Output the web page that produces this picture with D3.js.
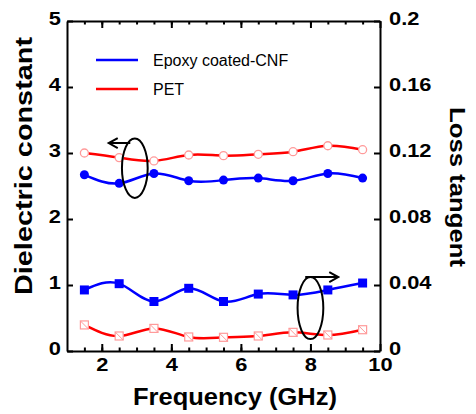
<!DOCTYPE html>
<html>
<head>
<meta charset="utf-8">
<script src="https://cdn.jsdelivr.net/npm/d3@7"></script>
<style>
  body { margin: 0; background: #fff; }
  svg { font-family: "Liberation Sans", Arial, sans-serif; }
  .tick text { font-weight: bold; font-size: 19px; fill: #000; }
  .domain { stroke: #000; stroke-width: 2; }
  .tick line { stroke: #000; stroke-width: 2; }
</style>
</head>
<body>
<div id="chart"></div>
<script>
// Constants for the chart
const CHART_WIDTH = 476;
const CHART_HEIGHT = 414;
const MARGIN = { left: 67, right: 96, top: 21, bottom: 63 };
const STRETCH = 1.15; // the original glyphs are a bit wider than Arial

// data
const freq = [1.5, 2.5, 3.5, 4.5, 5.5, 6.5, 7.5, 8.5, 9.5];
const epoxyDk = [2.67, 2.54, 2.69, 2.58, 2.59, 2.62, 2.58, 2.69, 2.62];
const petDk = [3.0, 2.93, 2.88, 2.97, 2.96, 2.98, 3.02, 3.11, 3.05];
const epoxyTan = [0.037, 0.0408, 0.030, 0.038, 0.030, 0.0345, 0.034, 0.037, 0.0412];
const petTan = [0.0158, 0.0091, 0.0137, 0.0085, 0.0083, 0.0091, 0.0113, 0.0097, 0.0129];

const xTicks = [2, 4, 6, 8, 10];
const xMinorTicks = d3.range(1.5, 10, 0.5);
const leftTicks = [0, 1, 2, 3, 4, 5];
const rightTicks = [0, 0.04, 0.08, 0.12, 0.16, 0.2];

const legendNames = ["Epoxy coated-CNF", "PET"];
const BLUE = "#0000ff";
const RED = "#ff0000";
const PINK = "#ff9a9a";

let svg = d3.select("#chart").append("svg")
  .attr("width", CHART_WIDTH)
  .attr("height", CHART_HEIGHT);

let xScale = d3.scaleLinear().domain([1, 10]).range([MARGIN.left, CHART_WIDTH - MARGIN.right]);
let yLeft = d3.scaleLinear().domain([0, 5]).range([CHART_HEIGHT - MARGIN.bottom, MARGIN.top]);
let yRight = d3.scaleLinear().domain([0, 0.2]).range([CHART_HEIGHT - MARGIN.bottom, MARGIN.top]);

const x0 = MARGIN.left, x1 = CHART_WIDTH - MARGIN.right;
const yTop = MARGIN.top, yBot = CHART_HEIGHT - MARGIN.bottom;

// widen tick labels around their anchor point
function stretchLabels(g) {
  g.selectAll(".tick text").each(function () {
    let t = d3.select(this);
    let tx = +t.attr("x") || 0;
    t.attr("transform", "translate(" + tx + ",0) scale(" + STRETCH + ",1) translate(" + (-tx) + ",0)");
  });
}

// minor ticks top & bottom (inward)
svg.append("g")
  .attr("transform", "translate(0," + yBot + ")")
  .call(d3.axisBottom(xScale).tickValues(xMinorTicks).tickSize(-3.5).tickFormat(""))
  .call(g => g.select(".domain").remove());
svg.append("g")
  .attr("transform", "translate(0," + yTop + ")")
  .call(d3.axisTop(xScale).tickValues(xMinorTicks).tickSize(-3.5).tickFormat(""))
  .call(g => g.select(".domain").remove());

// main axes
svg.append("g")
  .attr("transform", "translate(0," + yBot + ")")
  .call(d3.axisBottom(xScale).tickValues(xTicks).tickSizeInner(-7).tickSizeOuter(0).tickPadding(7))
  .call(stretchLabels);
svg.append("g")
  .attr("transform", "translate(0," + yTop + ")")
  .call(d3.axisTop(xScale).tickValues(xTicks).tickSizeInner(-7).tickSizeOuter(0).tickFormat(""));
svg.append("g")
  .attr("transform", "translate(" + x0 + ",0)")
  .call(d3.axisLeft(yLeft).tickValues(leftTicks).tickSizeInner(-6).tickSizeOuter(0).tickPadding(6).tickFormat(d3.format("d")))
  .call(g => g.selectAll(".tick text").attr("dy", "0.18em"))
  .call(stretchLabels);
svg.append("g")
  .attr("transform", "translate(" + x1 + ",0)")
  .call(d3.axisRight(yRight).tickValues(rightTicks).tickSizeInner(-6).tickSizeOuter(0).tickPadding(9).tickFormat(d => d === 0 ? "0" : String(+d.toFixed(2))))
  .call(g => g.selectAll(".tick text").attr("dy", "0.2em"))
  .call(stretchLabels);

// lines
const series = [
  { vals: epoxyDk, y: yLeft, color: BLUE, marker: "dot" },
  { vals: petDk, y: yLeft, color: RED, marker: "ring" },
  { vals: epoxyTan, y: yRight, color: BLUE, marker: "square" },
  { vals: petTan, y: yRight, color: RED, marker: "box" }
];

series.forEach(s => {
  let line = d3.line()
    .x((d, i) => xScale(freq[i]))
    .y(d => s.y(d))
    .curve(d3.curveNatural);
  svg.append("path")
    .attr("d", line(s.vals))
    .attr("fill", "none")
    .attr("stroke", s.color)
    .attr("stroke-width", 2.5);

  let g = svg.append("g");
  s.vals.forEach((v, i) => {
    let cx = xScale(freq[i]), cy = s.y(v);
    if (s.marker == "dot") {
      g.append("circle").attr("cx", cx).attr("cy", cy).attr("r", 4.5).attr("fill", BLUE);
    } else if (s.marker == "ring") {
      g.append("circle").attr("cx", cx).attr("cy", cy).attr("r", 4).attr("fill", "#fff")
        .attr("stroke", PINK).attr("stroke-width", 1.3);
    } else if (s.marker == "square") {
      g.append("rect").attr("x", cx - 4.5).attr("y", cy - 4.5).attr("width", 9).attr("height", 9).attr("fill", BLUE);
    } else {
      g.append("rect").attr("x", cx - 4).attr("y", cy - 4).attr("width", 8).attr("height", 8)
        .attr("fill", "#fff").attr("stroke", PINK).attr("stroke-width", 1.2);
      g.append("line").attr("x1", cx - 4).attr("y1", cy - 4).attr("x2", cx + 4).attr("y2", cy + 4)
        .attr("stroke", PINK).attr("stroke-width", 1);
    }
  });
});

// ellipse annotations (in data units of the left axis)
const ellipses = [
  { cx: 2.95, cy: 2.77, rx: 0.37, ry: 0.45, from: [2.82, 3.15], to: [2.2, 3.15], dir: -1 },
  { cx: 8.0, cy: 0.65, rx: 0.37, ry: 0.47, from: [7.85, 1.12], to: [8.8, 1.12], dir: 1 }
];
ellipses.forEach(e => {
  let cx = xScale(e.cx), cy = yLeft(e.cy);
  svg.append("ellipse")
    .attr("cx", cx).attr("cy", cy)
    .attr("rx", xScale(e.cx + e.rx) - cx)
    .attr("ry", cy - yLeft(e.cy + e.ry))
    .attr("fill", "none").attr("stroke", "#000").attr("stroke-width", 2);
  let fx = xScale(e.from[0]), fy = yLeft(e.from[1]);
  let tx = xScale(e.to[0]), ty = yLeft(e.to[1]);
  svg.append("path")
    .attr("d", "M" + fx + "," + fy + "L" + tx + "," + ty +
      "M" + (tx - e.dir * 9) + "," + (ty - 5) + "L" + tx + "," + ty + "L" + (tx - e.dir * 9) + "," + (ty + 5))
    .attr("fill", "none").attr("stroke", "#000").attr("stroke-width", 2);
});

// legend
legendNames.forEach((name, i) => {
  let ly = 60 + i * 29;
  svg.append("line").attr("x1", 96).attr("x2", 138).attr("y1", ly).attr("y2", ly)
    .attr("stroke", i == 0 ? BLUE : RED).attr("stroke-width", 2.5);
  svg.append("text").attr("x", 153).attr("y", ly + 6)
    .attr("font-size", 16).text(name);
});

// axis titles
svg.append("text")
  .attr("transform", "translate(32,166) rotate(-90)")
  .attr("text-anchor", "middle")
  .attr("font-size", 24).attr("font-weight", "bold")
  .attr("textLength", 258).attr("lengthAdjust", "spacingAndGlyphs")
  .text("Dielectric constant");
svg.append("text")
  .attr("transform", "translate(450,187) rotate(90)")
  .attr("text-anchor", "middle")
  .attr("font-size", 22).attr("font-weight", "bold")
  .attr("textLength", 160).attr("lengthAdjust", "spacingAndGlyphs")
  .text("Loss tangent");
svg.append("text")
  .attr("x", 235).attr("y", 405)
  .attr("text-anchor", "middle")
  .attr("font-size", 23).attr("font-weight", "bold")
  .attr("textLength", 204).attr("lengthAdjust", "spacingAndGlyphs")
  .text("Frequency (GHz)");
</script>
</body>
</html>
